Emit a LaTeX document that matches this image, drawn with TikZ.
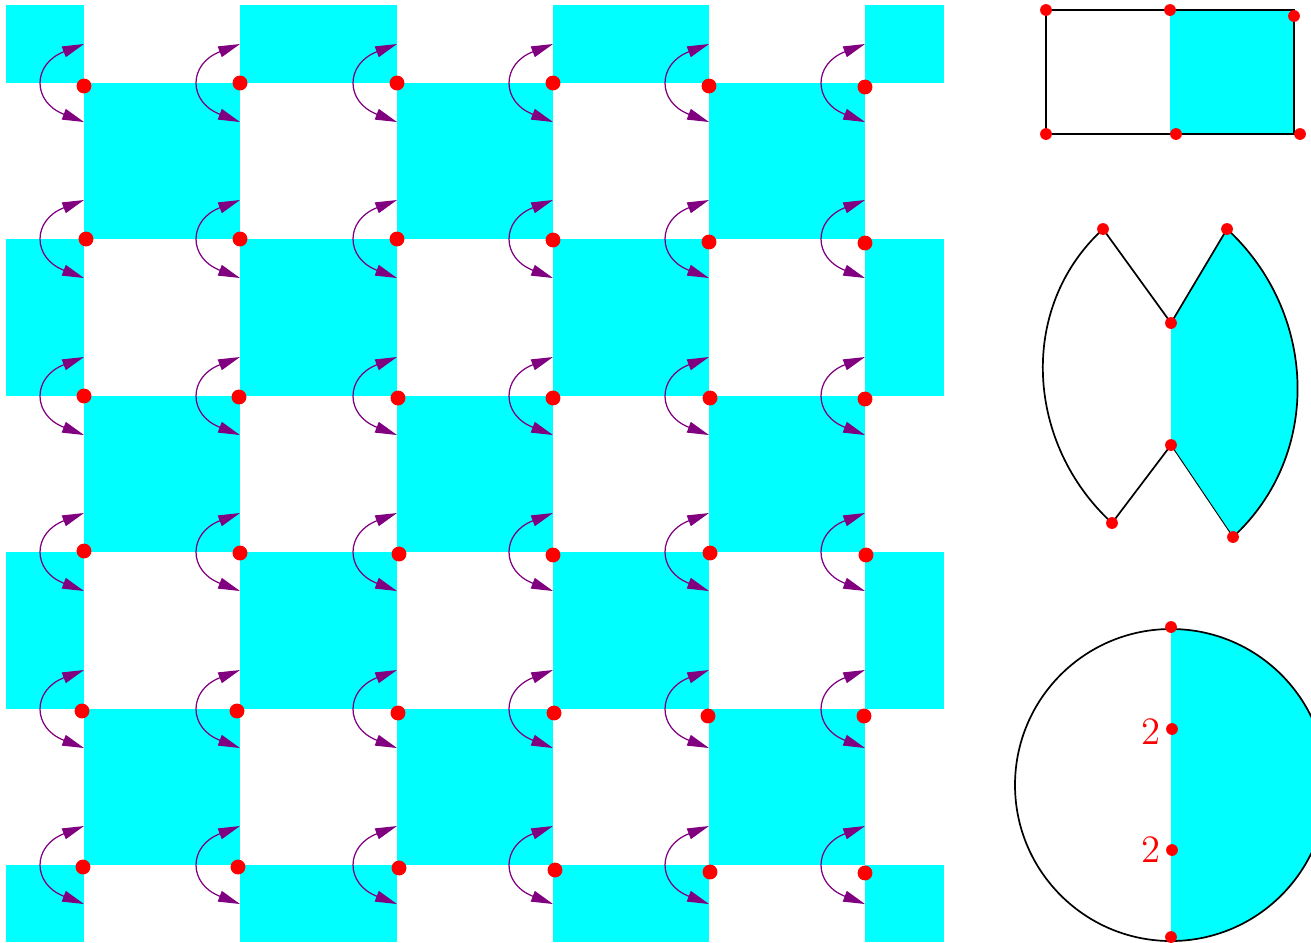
\documentclass[tikz,border=0pt]{standalone}
\usetikzlibrary{arrows.meta}
\definecolor{arrowpurple}{RGB}{128,0,128}
\definecolor{cyanfill}{RGB}{0,255,255}
\begin{document}
\begin{tikzpicture}[x=0.3226pt,y=-0.3226pt,
  bigdot/.style={fill=red, draw=none},
  swaparrow/.style={arrowpurple, line width=0.4pt,
    {Triangle[length=7pt,width=3.6pt]}-{Triangle[length=7pt,width=3.6pt]}},
  outline/.style={black, line width=0.55pt},
  thinedge/.style={black, line width=0.3pt},
  mult/.style={text=red, anchor=east, inner sep=0pt, font=\fontsize{12.5}{15}\selectfont},
  ]
\useasboundingbox (0,0) rectangle (1311,942);
% checkerboard
\foreach \xa/\xb [count=\i] in {6/84,84/240,240/397,397/553,553/709,709/865,865/944}{
  \foreach \ya/\yb [count=\j] in {5/83,83/239,239/396,396/552,552/709,709/865,865/942}{
    \ifodd\numexpr\i+\j\relax\else
      \fill[cyanfill] (\xa,\ya) rectangle (\xb,\yb);
    \fi
  }
}
% swap arrows
\foreach \gx in {84,240,397,553,709,865}{
  \foreach \gy in {83,239,396,552,709,865}{
    \coordinate (lo) at (\gx,\gy+39);
    \coordinate (hi) at (\gx,\gy-39);
    \draw[swaparrow] (lo) .. controls (\gx-52,\gy+19) and (\gx-52,\gy-19) .. (hi);
  }
}
% grid dots
\foreach \px/\py in {84/86,240/83,397/83,553/83,709/86,865/87,
  86/239,240/239,397/239,553/240,709/242,865/243,
  84/396,239/397,398/398,553/398,710/398,865/399,
  84/551,240/553,399/554,553/555,710/553,866/555,
  82/711,237/711,398/713,554/713,708/716,864/716,
  83/867,238/867,399/868,555/870,710/872,865/873}{
  \fill[bigdot] (\px,\py) circle (2.4pt);
}
% figure 1: rectangle
\coordinate (r1) at (1046,10);
\coordinate (r2) at (1170,10);
\coordinate (r3) at (1294,16);
\coordinate (r4) at (1046,134);
\coordinate (r5) at (1176,134);
\coordinate (r6) at (1300,134);
\fill[cyanfill] (1170,10) rectangle (1294,134);
\draw[outline] (1046,10) rectangle (1294,134);
\foreach \p in {r1,r2,r3,r4,r5,r6}{\fill[bigdot] (\p) circle (1.9pt);}
% figure 2: two lunes
\coordinate (A) at (1103,229);
\coordinate (B) at (1227,229);
\coordinate (C) at (1171,323);
\coordinate (D) at (1171,445);
\coordinate (E) at (1112,523);
\coordinate (F) at (1233,537);
\fill[cyanfill] (C) -- (B) .. controls (1317,312) and (1323,454) .. (F) -- (D) -- cycle;
\draw[outline] (C) -- (A) .. controls (1017,308) and (1026,444) .. (E) -- (D);
\draw[outline] (C) -- (B) .. controls (1317,312) and (1323,454) .. (F);
\draw[thinedge] (D) -- (F);
\foreach \p in {A,B,C,D,E,F}{\fill[bigdot] (\p) circle (1.9pt);}
% figure 3: disc
\coordinate (O) at (1171,785);
\begin{scope}
  \clip (1171,600) rectangle (1340,960);
  \fill[cyanfill] (O) circle[radius=156];
\end{scope}
\draw[outline] (O) circle[radius=156];
\coordinate (t1) at (1171,627);
\coordinate (t2) at (1172,729);
\coordinate (t3) at (1172,850);
\coordinate (t4) at (1171,937);
\foreach \p in {t1,t2,t3,t4}{\fill[bigdot] (\p) circle (1.9pt);}
\node[mult] (m1) at (1161,732) {2};
\node[mult] (m2) at (1161,850) {2};
\end{tikzpicture}
\end{document}
